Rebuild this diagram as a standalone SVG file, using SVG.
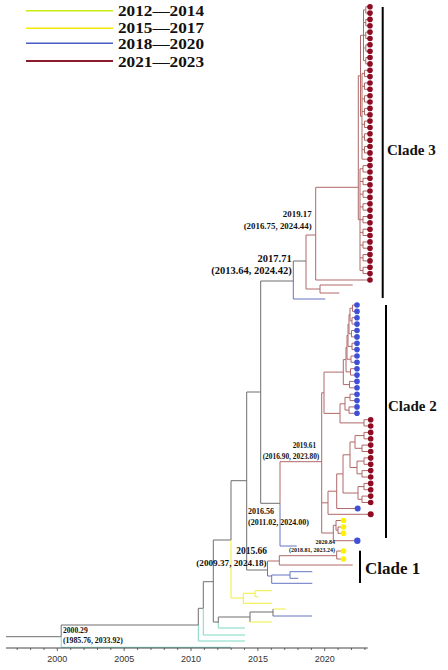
<svg xmlns="http://www.w3.org/2000/svg" width="448" height="670" viewBox="0 0 448 670">
<style>
.g{fill:none;stroke:#6e6e6e;stroke-width:1}
.t{fill:none;stroke:#7fd8c2;stroke-width:1}
.y{fill:none;stroke:#f2ee3a;stroke-width:1}
.b{fill:none;stroke:#6474c4;stroke-width:1}
.r{fill:none;stroke:#b06868;stroke-width:1}
.dr{fill:#8e0c22}
.db{fill:#3e50d6}
.dy{fill:#fff200}
.bar{stroke:#000;stroke-width:2}
.lab{font-family:"Liberation Serif",serif;font-weight:bold;fill:#111}
.leg{font-family:"Liberation Serif",serif;font-weight:bold;fill:#111;font-size:14.5px}
.ax{font-family:"Liberation Sans",Arial,sans-serif;font-size:9px;fill:#333;text-anchor:middle}
</style>
<rect width="448" height="670" fill="#fff"/>
<g id="legend">
<line x1="26" y1="10.7" x2="113" y2="10.7" stroke="#c6ee10" stroke-width="1.5"/>
<line x1="26" y1="28.3" x2="113" y2="28.3" stroke="#f5e800" stroke-width="1.5"/>
<line x1="26" y1="43.3" x2="113" y2="43.3" stroke="#4a5cc8" stroke-width="1.5"/>
<line x1="26" y1="61" x2="113" y2="61" stroke="#8b1a2a" stroke-width="1.8"/>
<text class="leg" x="118" y="15.5" textLength="86" lengthAdjust="spacingAndGlyphs">2012—2014</text>
<text class="leg" x="118" y="32.8" textLength="86" lengthAdjust="spacingAndGlyphs">2015—2017</text>
<text class="leg" x="118" y="49" textLength="86" lengthAdjust="spacingAndGlyphs">2018—2020</text>
<text class="leg" x="118" y="66.7" textLength="86" lengthAdjust="spacingAndGlyphs">2021—2023</text>
</g>
<g id="connectors">
<path class="g" d="M6 636.7H61.2M61.2 625V636.7M61.2 625H198.3M198.3 608.3V625M198.3 608.3H203.3M203.3 581.7V608.3M203.3 581.7H213.3M213.3 540V622M213.3 622H218.3M218.3 617V623M218.3 617H250M250 612V622M250 612H273M273 609V616M213.3 540H231M231 480.7V540M231 480.7H246.7M246.7 392V570M246.7 392H260.7M246.7 570H267.5M260.7 281V503.3M260.7 281H293.3M260.7 503.3H280M293.3 261V281M293.3 261H306"/>
<path class="t" d="M61.2 636.7V647.3M61.2 647.3H231M198.3 625V641M198.3 641H245M203.3 608.3V635M203.3 635H245M218.3 623V628M218.3 628H245"/>
<path class="y" d="M250 622H272M273 609H285.7M231 540V598M231 598H243.3M243.3 593.3V603.3M243.3 603.3H272M243.3 593.3H255M255 590.7V596.7M255 590.7H272M255 596.7H258"/>
<path class="b" d="M273 616H312M293.3 281V299M293.3 299H325.3M280 503.3V546M280 546H296.7M267.5 566V576M267.5 576H271.7M271.7 575V583.3M271.7 583.3H312.3M271.7 575H290M290 571.7V578.3M290 571.7H312.3M290 578.3H298.3"/>
<path class="r" d="M306 235V289M306 235H315.7M306 289H320M320 285V293M320 285H352.7M320 293H339.3M315.7 187.3V280M315.7 187.3H358.3M315.7 280H368
M358.3 75.8V219.7M358.3 75.8H360.5M358.3 219.7H360
M360.5 35.3V116.3M360.5 35.3H363.5M360.5 116.3H362
M363.5 9.9V60.7M363.5 9.9H365.8M363.5 22.6H365.8M363.5 35.3H365.8M363.5 48H365.8M363.5 60.7H365.8
M368 6.7H365.8V13.1H368M368 19.4H365.8V25.8H368M368 32.1H365.8V38.5H368M368 44.8H365.8V51.2H368M368 57.5H365.8V63.9H368
M362 73.4V159.2M362 73.4H364.5M362 86.2H364.5M362 98.9H364.5M362 111.6H364.5M362 124.3H364.5M362 137H364.5M362 149.7H364.5M362 159.2H368
M368 70.3H364.5V76.6H368M368 83H364.5V89.3H368M368 95.7H364.5V102H368M368 108.4H364.5V114.8H368M368 121.1H364.5V127.5H368M368 133.8H364.5V140.2H368M368 146.5H364.5V152.9H368
M360 168.8V270.5M360 168.8H363M360 181.5H363M360 194.2H363M360 206.9H363M360 219.7H363M360 232.4H363M360 245.1H363M360 257.8H363M360 270.5H363
M368 165.6H363V172H368M368 178.3H363V184.7H368M368 191H363V197.4H368M368 203.7H363V210.1H368M368 216.5H363V222.8H368M368 229.2H363V235.5H368M368 241.9H363V248.2H368M368 254.6H363V260.9H368M368 267.3H363V273.6H368
M280 461.7V503.3M280 461.7H321.7M321.7 392.8V533M321.7 392.8H324M321.7 502.8H328M321.7 533H333.3
M324 372.1V413.4M324 372.1H343.3M324 413.4H340
M343.3 359.6V384.6M343.3 359.6H346M343.3 384.6H349.5
M346 347.3V371.9M346 347.3H347M346 371.9H350.5
M347 335.3V359.2M347 335.3H348M347 359.2H351
M348 324.2V346.4M348 324.2H349M348 346.4H352
M349 314.6V333.7M349 314.6H350M349 333.7H351.5
M350 308.2V320.9M350 308.2H352.5M350 320.9H352
M355 305H352.5V311.4H355M355 317.7H352V324.1H355M355 330.5H351.5V336.9H355M355 343.2H352V349.6H355M355 356H351V362.3H355M355 368.7H350.5V375.1H355M355 381.4H349.5V387.8H355M355 394.2H350V400.6H355M355 406.9H349V413.3H355
M340 403.8V422.9M340 403.8H345M340 422.9H364M345 397.4V410.1M345 397.4H350M345 410.1H349
M368 419.7H364V426H368
M328 491.2V514.3M328 514.3H368M328 491.2H336.7M336.7 473.9V508.5M336.7 508.5H355M336.7 473.9H343
M343 454.8V493M343 454.8H350M343 493H358M350 442V467.5M350 442H355M350 467.5H357
M355 435.6V448.3M355 435.6H364M355 448.3H362M357 461.1V473.8M357 461.1H364M357 473.8H362M358 486.6V499.3M358 486.6H364M358 499.3H362
M368 432.4H364V438.8H368M368 445.1H362V451.5H368M368 457.9H364V464.3H368M368 470.6H362V477H368M368 483.4H364V489.7H368M368 496.1H362V502.5H368
M333.3 525.3V540.7M333.3 525.3H336M333.3 540.7H354.5M336 520.5V530.2M336 520.5H341M336 530.2H338M338 527V533.3M338 527H341M338 533.3H341
M267.5 561V566M267.5 561H279.3M279.3 555.7V565M279.3 555.7H336.7M279.3 565H352.7M336.7 551V559M336.7 551H341M336.7 559H341"/>
</g>
<g id="clade3-tips" class="dr">
<circle cx="370" cy="6.7" r="2.8"/><circle cx="370" cy="13.1" r="2.8"/><circle cx="370" cy="19.4" r="2.8"/><circle cx="370" cy="25.8" r="2.8"/><circle cx="370" cy="32.1" r="2.8"/><circle cx="370" cy="38.5" r="2.8"/><circle cx="370" cy="44.8" r="2.8"/><circle cx="370" cy="51.2" r="2.8"/><circle cx="370" cy="57.5" r="2.8"/><circle cx="370" cy="63.9" r="2.8"/>
<circle cx="370" cy="70.3" r="2.8"/><circle cx="370" cy="76.6" r="2.8"/><circle cx="370" cy="83" r="2.8"/><circle cx="370" cy="89.3" r="2.8"/><circle cx="370" cy="95.7" r="2.8"/><circle cx="370" cy="102" r="2.8"/><circle cx="370" cy="108.4" r="2.8"/><circle cx="370" cy="114.8" r="2.8"/><circle cx="370" cy="121.1" r="2.8"/><circle cx="370" cy="127.5" r="2.8"/>
<circle cx="370" cy="133.8" r="2.8"/><circle cx="370" cy="140.2" r="2.8"/><circle cx="370" cy="146.5" r="2.8"/><circle cx="370" cy="152.9" r="2.8"/><circle cx="370" cy="159.2" r="2.8"/><circle cx="370" cy="165.6" r="2.8"/><circle cx="370" cy="172" r="2.8"/><circle cx="370" cy="178.3" r="2.8"/><circle cx="370" cy="184.7" r="2.8"/><circle cx="370" cy="191" r="2.8"/>
<circle cx="370" cy="197.4" r="2.8"/><circle cx="370" cy="203.7" r="2.8"/><circle cx="370" cy="210.1" r="2.8"/><circle cx="370" cy="216.5" r="2.8"/><circle cx="370" cy="222.8" r="2.8"/><circle cx="370" cy="229.2" r="2.8"/><circle cx="370" cy="235.5" r="2.8"/><circle cx="370" cy="241.9" r="2.8"/><circle cx="370" cy="248.2" r="2.8"/><circle cx="370" cy="254.6" r="2.8"/>
<circle cx="370" cy="260.9" r="2.8"/><circle cx="370" cy="267.3" r="2.8"/><circle cx="370" cy="273.6" r="2.8"/><circle cx="370" cy="280" r="2.8"/>
</g>
<g id="clade2-tips">
<g class="db">
<circle cx="357" cy="305" r="2.8"/><circle cx="357" cy="311.4" r="2.8"/><circle cx="357" cy="317.7" r="2.8"/><circle cx="357" cy="324.1" r="2.8"/><circle cx="357" cy="330.5" r="2.8"/><circle cx="357" cy="336.9" r="2.8"/><circle cx="357" cy="343.2" r="2.8"/><circle cx="357" cy="349.6" r="2.8"/><circle cx="357" cy="356" r="2.8"/>
<circle cx="357" cy="362.3" r="2.8"/><circle cx="357" cy="368.7" r="2.8"/><circle cx="357" cy="375.1" r="2.8"/><circle cx="357" cy="381.4" r="2.8"/><circle cx="357" cy="387.8" r="2.8"/><circle cx="357" cy="394.2" r="2.8"/><circle cx="357" cy="400.6" r="2.8"/><circle cx="357" cy="406.9" r="2.8"/><circle cx="357" cy="413.3" r="2.8"/>
<circle cx="357.7" cy="508.5" r="3"/><circle cx="357.3" cy="540.7" r="3.2"/>
</g>
<g class="dr">
<circle cx="370.7" cy="419.7" r="2.8"/><circle cx="370.7" cy="426" r="2.8"/>
<circle cx="370.7" cy="432.4" r="2.8"/><circle cx="370.7" cy="438.8" r="2.8"/><circle cx="370.7" cy="445.1" r="2.8"/><circle cx="370.7" cy="451.5" r="2.8"/><circle cx="370.7" cy="457.9" r="2.8"/><circle cx="370.7" cy="464.3" r="2.8"/><circle cx="370.7" cy="470.6" r="2.8"/><circle cx="370.7" cy="477" r="2.8"/><circle cx="370.7" cy="483.4" r="2.8"/><circle cx="370.7" cy="489.7" r="2.8"/><circle cx="370.7" cy="496.1" r="2.8"/><circle cx="370.7" cy="502.5" r="2.8"/>
<circle cx="370.7" cy="514.3" r="3"/>
</g>
<g class="dy">
<circle cx="343.5" cy="520.5" r="2.8"/><circle cx="343.5" cy="527" r="2.8"/><circle cx="343.5" cy="533.3" r="2.8"/>
</g>
</g>
<g id="clade1-tips" class="dy">
<circle cx="343.5" cy="551" r="2.8"/><circle cx="343.5" cy="559" r="2.8"/>
</g>
<g id="clades">
<line class="bar" x1="382.7" y1="7" x2="382.7" y2="298"/>
<text class="lab" x="387" y="155" font-size="15">Clade 3</text>
<line class="bar" x1="386" y1="305" x2="386" y2="538"/>
<text class="lab" x="388" y="411" font-size="15">Clade 2</text>
<line class="bar" x1="360" y1="550.7" x2="360" y2="583"/>
<text class="lab" x="365" y="573.5" font-size="17">Clade 1</text>
</g>
<g id="node-labels" class="lab">
<text x="291.7" y="261.7" font-size="10.5" text-anchor="end">2017.71</text>
<text x="291.7" y="273.5" font-size="10.5" text-anchor="end">(2013.64, 2024.42)</text>
<text x="311.7" y="216.7" font-size="8.9" text-anchor="end">2019.17</text>
<text x="311.7" y="229" font-size="8.9" text-anchor="end">(2016.75, 2024.44)</text>
<text x="316" y="448.3" font-size="7.2" text-anchor="end">2019.61</text>
<text x="319.3" y="458.7" font-size="7.4" text-anchor="end">(2016.90, 2023.80)</text>
<text x="248" y="514" font-size="8">2016.56</text>
<text x="248" y="524.5" font-size="8">(2011.02, 2024.00)</text>
<text x="267" y="554" font-size="9.5" text-anchor="end">2015.66</text>
<text x="266.7" y="566" font-size="9.2" text-anchor="end">(2009.37, 2024.18)</text>
<text x="335" y="544.3" font-size="6" text-anchor="end">2020.84</text>
<text x="335" y="552.3" font-size="6" text-anchor="end">(2018.81, 2023.24)</text>
<text x="63" y="632.7" font-size="7.6">2000.29</text>
<text x="63" y="643.3" font-size="7.8">(1985.76, 2033.92)</text>
</g>
<g id="axis">
<path d="M6 648H367.7" stroke="#444" stroke-width="1" fill="none"/>
<path d="M17.2 648v2M30.6 648v2M44 648v2M57.3 648v3M70.7 648v2M84.1 648v2M97.5 648v2M110.8 648v2M124.2 648v3M137.6 648v2M151 648v2M164.3 648v2M177.7 648v2M191 648v3M204.4 648v2M217.8 648v2M231.2 648v2M244.5 648v2M257.9 648v3M271.3 648v2M284.7 648v2M298 648v2M311.4 648v2M324.7 648v3M338.1 648v2M351.5 648v2M364.9 648v2" stroke="#444" stroke-width="0.8" fill="none"/>
<text class="ax" x="57.3" y="662">2000</text>
<text class="ax" x="124.2" y="662">2005</text>
<text class="ax" x="191" y="662">2010</text>
<text class="ax" x="257.9" y="662">2015</text>
<text class="ax" x="324.7" y="662">2020</text>
</g>
</svg>
